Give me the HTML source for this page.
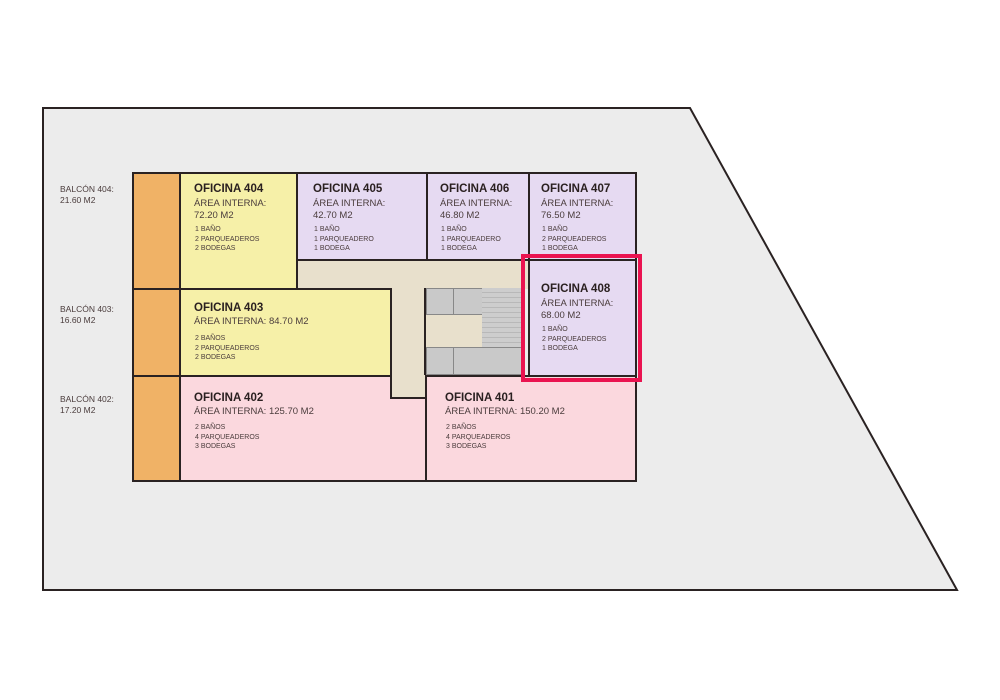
<!DOCTYPE html>
<html><head><meta charset="utf-8"><style>
body{margin:0;width:1000px;height:700px;background:#fff;position:relative;overflow:hidden;font-family:"Liberation Sans",sans-serif;color:#3a2e2e}
.r{position:absolute;box-sizing:border-box;border:2px solid #2a2222}
.t{position:absolute;white-space:nowrap}
.h{font-weight:bold;font-size:11.5px;color:#2a2020}
.a{font-size:9.5px;line-height:12px;color:#4a3c3c}
.d{font-size:7px;line-height:9.5px;color:#4a3c3c}
.bl{font-size:8.5px;line-height:11px;color:#4a3c3c}
.g{position:absolute;background:#c9c9c9;border:1px solid #888;box-sizing:border-box}
</style></head><body>
<svg width="1000" height="700" style="position:absolute;left:0;top:0">
<polygon points="43,108 690,108 957,590 43,590" fill="#ececec" stroke="#2a2222" stroke-width="2"/>
</svg>
<!-- corridor -->
<div style="position:absolute;left:296px;top:259px;width:232px;height:30px;background:#e8e0cc"></div>
<div style="position:absolute;left:390px;top:288px;width:36px;height:111px;background:#e8e0cc;border:2px solid #2a2222;border-top:none;box-sizing:border-box"></div>
<div style="position:absolute;left:426px;top:288px;width:96px;height:87px;background:#e8e0cc"></div>
<div class="g" style="left:426px;top:288px;width:28px;height:27px"></div>
<div class="g" style="left:453px;top:288px;width:30px;height:27px"></div>
<div class="g" style="left:482px;top:288px;width:40px;height:87px;background:#cdcdcd;border:none;background-image:repeating-linear-gradient(#cdcdcd 0 4px,#b8b8b8 4px 5px);background-size:100% 100%"></div>
<div class="g" style="left:426px;top:347px;width:28px;height:28px"></div>
<div class="g" style="left:453px;top:347px;width:69px;height:28px"></div>
<!-- balconies -->
<div class="r" style="left:132px;top:172px;width:49px;height:118px;background:#f0b266"></div>
<div class="r" style="left:132px;top:288px;width:49px;height:89px;background:#f0b266"></div>
<div class="r" style="left:132px;top:375px;width:49px;height:107px;background:#f0b266"></div>
<!-- offices -->
<div class="r" style="left:179px;top:172px;width:119px;height:118px;background:#f6f0a8"></div>
<div class="r" style="left:296px;top:172px;width:132px;height:89px;background:#e6daf2"></div>
<div class="r" style="left:426px;top:172px;width:104px;height:89px;background:#e6daf2"></div>
<div class="r" style="left:528px;top:172px;width:109px;height:89px;background:#e6daf2"></div>
<div class="r" style="left:179px;top:288px;width:213px;height:89px;background:#f6f0a8"></div>
<div class="r" style="left:179px;top:375px;width:248px;height:107px;background:#fbd8de;border-top:none"></div>
<div style="position:absolute;left:179px;top:375px;width:213px;height:2px;background:#2a2222"></div>
<div class="r" style="left:425px;top:375px;width:212px;height:107px;background:#fbd8de"></div>
<div class="r" style="left:390px;top:375px;width:37px;height:24px;background:#e8e0cc;border-top:none;border-bottom:2px solid #2a2222"></div>
<div class="r" style="left:528px;top:259px;width:109px;height:118px;background:#e6daf2"></div>
<div style="position:absolute;left:521px;top:254px;width:121px;height:128px;border:4px solid #ea1350;box-sizing:border-box"></div>
<!-- balcony labels -->
<div class="t bl" style="left:60px;top:184px">BALCÓN 404:<br>21.60 M2</div>
<div class="t bl" style="left:60px;top:304px">BALCÓN 403:<br>16.60 M2</div>
<div class="t bl" style="left:60px;top:394px">BALCÓN 402:<br>17.20 M2</div>
<!-- 404 -->
<div class="t h" style="left:194px;top:183px">OFICINA 404</div>
<div class="t a" style="left:194px;top:198px">ÁREA INTERNA:<br>72.20 M2</div>
<div class="t d" style="left:195px;top:225px">1 BAÑO<br>2 PARQUEADEROS<br>2 BODEGAS</div>
<div class="t h" style="left:313px;top:183px">OFICINA 405</div>
<div class="t a" style="left:313px;top:198px">ÁREA INTERNA:<br>42.70 M2</div>
<div class="t d" style="left:314px;top:225px">1 BAÑO<br>1 PARQUEADERO<br>1 BODEGA</div>
<div class="t h" style="left:440px;top:183px">OFICINA 406</div>
<div class="t a" style="left:440px;top:198px">ÁREA INTERNA:<br>46.80 M2</div>
<div class="t d" style="left:441px;top:225px">1 BAÑO<br>1 PARQUEADERO<br>1 BODEGA</div>
<div class="t h" style="left:541px;top:183px">OFICINA 407</div>
<div class="t a" style="left:541px;top:198px">ÁREA INTERNA:<br>76.50 M2</div>
<div class="t d" style="left:542px;top:225px">1 BAÑO<br>2 PARQUEADEROS<br>1 BODEGA</div>
<div class="t h" style="left:541px;top:283px">OFICINA 408</div>
<div class="t a" style="left:541px;top:298px">ÁREA INTERNA:<br>68.00 M2</div>
<div class="t d" style="left:542px;top:325px">1 BAÑO<br>2 PARQUEADEROS<br>1 BODEGA</div>
<div class="t h" style="left:194px;top:302px">OFICINA 403</div>
<div class="t a" style="left:194px;top:316px">ÁREA INTERNA: 84.70 M2</div>
<div class="t d" style="left:195px;top:334px">2 BAÑOS<br>2 PARQUEADEROS<br>2 BODEGAS</div>
<div class="t h" style="left:194px;top:392px">OFICINA 402</div>
<div class="t a" style="left:194px;top:406px">ÁREA INTERNA: 125.70 M2</div>
<div class="t d" style="left:195px;top:423px">2 BAÑOS<br>4 PARQUEADEROS<br>3 BODEGAS</div>
<div class="t h" style="left:445px;top:392px">OFICINA 401</div>
<div class="t a" style="left:445px;top:406px">ÁREA INTERNA: 150.20 M2</div>
<div class="t d" style="left:446px;top:423px">2 BAÑOS<br>4 PARQUEADEROS<br>3 BODEGAS</div>
</body></html>
